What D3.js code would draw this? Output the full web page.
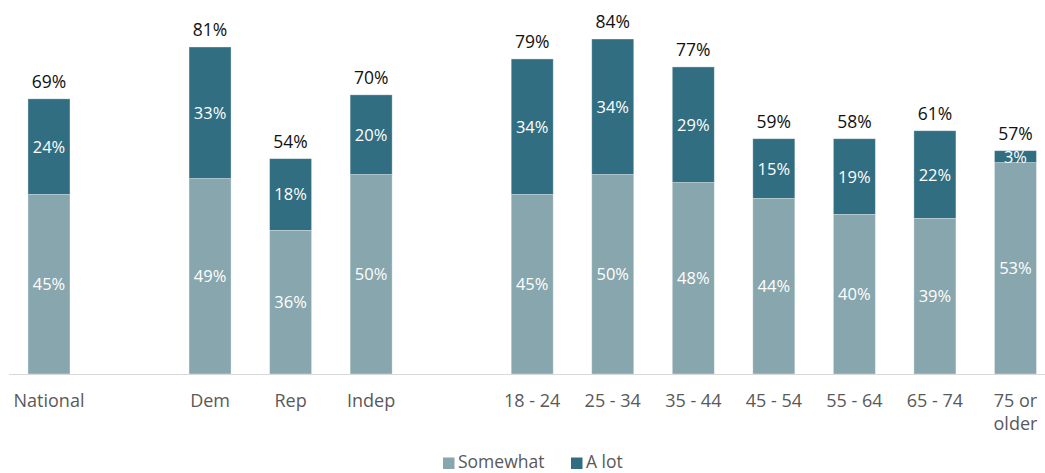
<!DOCTYPE html>
<html>
<head>
<meta charset="utf-8">
<script src="https://cdn.jsdelivr.net/npm/d3@7"></script>
<style>
  html, body { margin: 0; padding: 0; background: #ffffff; }
  svg { display: block; font-family: "Open Sans", "Noto Sans", sans-serif; }
</style>
</head>
<body>
<svg id="chart" width="1045" height="473"></svg>
<script>
// Slots along the x axis; empty strings are spacer slots between groups.
const categories = ["National", "", "Dem", "Rep", "Indep", "", "18 - 24", "25 - 34", "35 - 44", "45 - 54", "55 - 64", "65 - 74", "75 or older"];
const barCategories = ["National", "Dem", "Rep", "Indep", "18 - 24", "25 - 34", "35 - 44", "45 - 54", "55 - 64", "65 - 74", "75 or older"];
const somewhat = [45, 49, 36, 50, 45, 50, 48, 44, 40, 39, 53];
const aLot     = [24, 33, 18, 20, 34, 34, 29, 15, 19, 22, 3];
const totals   = [69, 81, 54, 70, 79, 84, 77, 59, 58, 61, 57];
const seriesNames = ["Somewhat", "A lot"];
const colors = ["#87a6ae", "#316e81"];

const svg = d3.select("#chart");
const baseY = 374;

const slotIds = categories.map((c, i) => "s" + i);
const x = d3.scaleBand()
  .domain(slotIds)
  .range([8.7, 8.7 + 13 * 80.54])
  .paddingInner(0.478)
  .paddingOuter(0.239);

const y = d3.scaleLinear().domain([0, 84]).range([baseY, 39]);

const rows = barCategories.map((c, i) => ({
  cat: c, slot: "s" + categories.indexOf(c),
  Somewhat: somewhat[i], "A lot": aLot[i], total: totals[i]
}));

const stack = d3.stack().keys(seriesNames)(rows);

// Stacked bars
const layers = svg.append("g").selectAll("g")
  .data(stack).join("g")
  .attr("fill", (d, i) => colors[i]);

layers.selectAll("rect")
  .data(d => d).join("rect")
  .attr("x", d => x(d.data.slot))
  .attr("width", x.bandwidth())
  .attr("y", d => y(d[1]))
  .attr("height", d => y(d[0]) - y(d[1]))
  .attr("stroke", "#ffffff")
  .attr("stroke-opacity", 0.45)
  .attr("stroke-width", 0.8);

// Segment value labels
layers.each(function(layer) {
  d3.select(this).selectAll("text")
    .data(layer).join("text")
    .attr("x", d => x(d.data.slot) + x.bandwidth() / 2)
    .attr("y", d => (y(d[0]) + y(d[1])) / 2)
    .attr("dy", "0.36em")
    .attr("text-anchor", "middle")
    .attr("fill", "#ffffff")
    .attr("font-size", "16.5px")
    .text(d => (d[1] - d[0]) + "%");
});

// Totals above each bar
svg.append("g").selectAll("text")
  .data(stack[stack.length - 1]).join("text")
  .attr("x", d => x(d.data.slot) + x.bandwidth() / 2)
  .attr("y", d => y(d[1]) - 11)
  .attr("text-anchor", "middle")
  .attr("fill", "#111111")
  .attr("font-size", "17.5px")
  .text(d => d.data.total + "%");

// Baseline
svg.append("line")
  .attr("x1", 9).attr("x2", 1045)
  .attr("y1", baseY + 0.5).attr("y2", baseY + 0.5)
  .attr("stroke", "#d9d9d9").attr("stroke-width", 1.2);

// Category labels (wrapped where needed)
const wrap = { "75 or older": ["75 or", "older"] };
const xl = svg.append("g").selectAll("text")
  .data(barCategories).join("text")
  .attr("x", c => x("s" + categories.indexOf(c)) + x.bandwidth() / 2)
  .attr("y", 406.5)
  .attr("text-anchor", "middle")
  .attr("fill", "#595959")
  .attr("font-size", "18px");
xl.each(function(c) {
  const lines = wrap[c] || [c];
  d3.select(this).selectAll("tspan").data(lines).join("tspan")
    .attr("x", d3.select(this).attr("x"))
    .attr("dy", (d, i) => i === 0 ? 0 : 23.5)
    .text(d => d);
});

// Legend
const legend = svg.append("g");
const legendItems = [{ name: "Somewhat", x: 443 }, { name: "A lot", x: 571 }];
legendItems.forEach((it, i) => {
  legend.append("rect")
    .attr("x", it.x).attr("y", 457.5)
    .attr("width", 11.5).attr("height", 11.5)
    .attr("fill", colors[i]);
  legend.append("text")
    .attr("x", it.x + 15).attr("y", 468)
    .attr("fill", "#595959")
    .attr("font-size", "17.5px")
    .text(it.name);
});
</script>
</body>
</html>
